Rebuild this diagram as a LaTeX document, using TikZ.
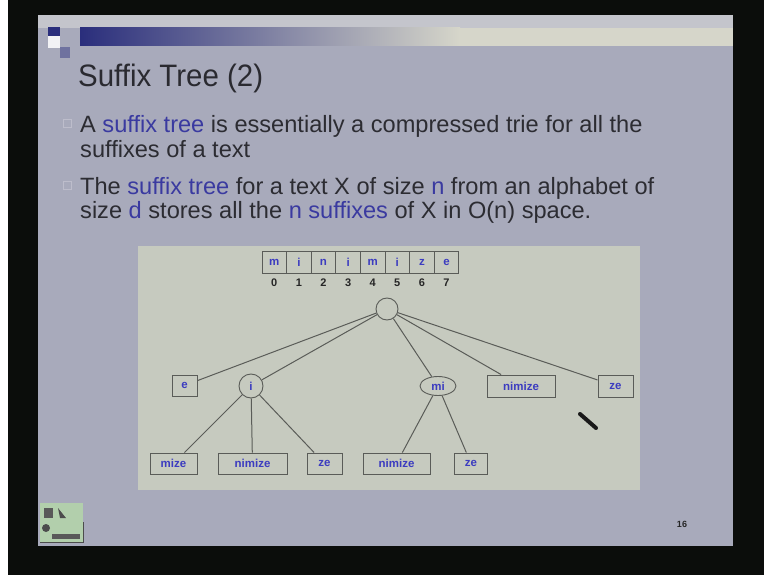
\documentclass[tikz,border=0pt]{standalone}
\usepackage{fontspec}
\setmainfont{Liberation Sans}
\usetikzlibrary{shapes.geometric}
\definecolor{framecol}{HTML}{0B0D0B}
\definecolor{slidebg}{HTML}{A8AABB}
\definecolor{slidetop}{HTML}{C4C5CC}
\definecolor{bardark}{HTML}{2A2E7C}
\definecolor{barlight}{HTML}{D6D6CA}
\definecolor{titlecol}{HTML}{2A2A30}
\definecolor{bodycol}{HTML}{2C2C32}
\definecolor{kwcol}{HTML}{3A3AA0}
\definecolor{bulletcol}{HTML}{BDBDCB}
\definecolor{panelcol}{HTML}{C6CABF}
\definecolor{edgecol}{HTML}{5A5C58}
\definecolor{labelcol}{HTML}{3C3CC0}
\newcommand{\kw}[1]{\textcolor{kwcol}{#1}}
\tikzset{
  bodyline/.style={anchor=base west, text=bodycol, font=\fontsize{23.6}{24}\selectfont, inner sep=0},
  bulletbox/.style={draw=bulletcol, line width=0.8pt},
  treenode/.style={draw=edgecol, line width=0.9pt, fill=panelcol, inner sep=0,
    text=labelcol, font=\bfseries\fontsize{11.5}{12}\selectfont},
  leafbox/.style={treenode, rectangle, minimum height=21},
  cellbox/.style={treenode, rectangle, minimum width=24.6, minimum height=22},
  idx/.style={text=black!85, font=\bfseries\fontsize{11}{11}\selectfont, inner sep=0},
  branch/.style={draw=edgecol, line width=1pt}
}
\begin{document}
\begin{tikzpicture}[x=1pt,y=-1pt]
\useasboundingbox (0,0) rectangle (764,575);
% projector frame and slide
\fill[framecol] (0,0) rectangle (764,575);
\fill[white] (0,0) rectangle (8,575);
\fill[slidebg] (38,15) rectangle (733,546);
\fill[slidetop] (38,15) rectangle (733,28);
% title bar with its small squares
\shade[left color=bardark, right color=barlight] (80,28) rectangle (460,46);
\fill[barlight] (460,28) rectangle (733,46);
\fill[bardark] (48,27) rectangle (60,36);
\fill[white!85!slidebg] (48,36) rectangle (60,48);
\fill[bardark!45!slidebg] (60,47) rectangle (70,58);
% title and bullet text
\node[anchor=base west, text=titlecol, font=\fontsize{31}{31}\selectfont, inner sep=0, xscale=0.95] (title) at (78,87) {Suffix Tree (2)};
\draw[bulletbox] (63,119) rectangle (71,127);
\draw[bulletbox] (63,181) rectangle (71,189);
\node[bodyline] (l1) at (80,133) {A \kw{suffix tree} is essentially a compressed trie for all the};
\node[bodyline] (l2) at (80,158) {suffixes of a text};
\node[bodyline] (l3) at (80,195) {The \kw{suffix tree} for a text X of size \kw{n} from an alphabet of};
\node[bodyline] (l4) at (80,219) {size \kw{d} stores all the \kw{n} \kw{suffixes} of X in O(n) space.};
% diagram panel
\fill[panelcol] (138,246) rectangle (640,490);
% the text array with its indices
\foreach \ch [count=\k from 0] in {m,i,n,i,m,i,z,e}{
  \node[cellbox] (c\k) at ({274.3+24.6*\k},262) {\ch};
  \node[idx] (n\k) at ({274.3+24.6*\k},283) {\k};
}
% suffix tree
\node[treenode, circle, minimum size=22] (root) at (387,309) {};
\node[leafbox, minimum width=25] (e) at (184.5,385.5) {e};
\node[treenode, circle, minimum size=24] (i) at (251,386) {i};
\node[treenode, ellipse, minimum width=36, minimum height=19] (mi) at (438,386) {mi};
\node[leafbox, minimum width=68, minimum height=22] (nimizeA) at (521,386) {nimize};
\node[leafbox, minimum width=35, minimum height=22] (zeA) at (615.5,386) {ze};
\node[leafbox, minimum width=47] (mize) at (173.5,463.5) {mize};
\node[leafbox, minimum width=69] (nimizeB) at (252.5,463.5) {nimize};
\node[leafbox, minimum width=35] (zeB) at (324.5,463.5) {ze};
\node[leafbox, minimum width=67] (nimizeC) at (396.5,463.5) {nimize};
\node[leafbox, minimum width=33] (zeC) at (471,463.5) {ze};
\foreach \t in {e,i,mi,nimizeA,zeA}{ \draw[branch] (root) -- (\t); }
\foreach \t in {mize,nimizeB,zeB}{ \draw[branch] (i) -- (\t); }
\foreach \t in {nimizeC,zeC}{ \draw[branch] (mi) -- (\t); }
% pointer stroke
\draw[line width=4pt, line cap=round, color=black!90] (580,414) -- (596,428);
% navigation icon and page number
\fill[panelcol!90!green] (40,503) rectangle (83,542);
\draw[gray!60!black, line width=0.6pt] (40,542) -- (83,542) -- (83,522);
\fill[gray!70!black] (44,508) rectangle (53,518);
\fill[gray!60!black] (58,508) -- (66,518) -- (60,518) -- cycle;
\fill[gray!60!black] (46,528) circle (4);
\fill[gray!70!black] (52,534) rectangle (80,539);
\node[text=black!85, font=\bfseries\fontsize{9}{9}\selectfont] (page) at (682,524) {16};
\end{tikzpicture}
\end{document}
